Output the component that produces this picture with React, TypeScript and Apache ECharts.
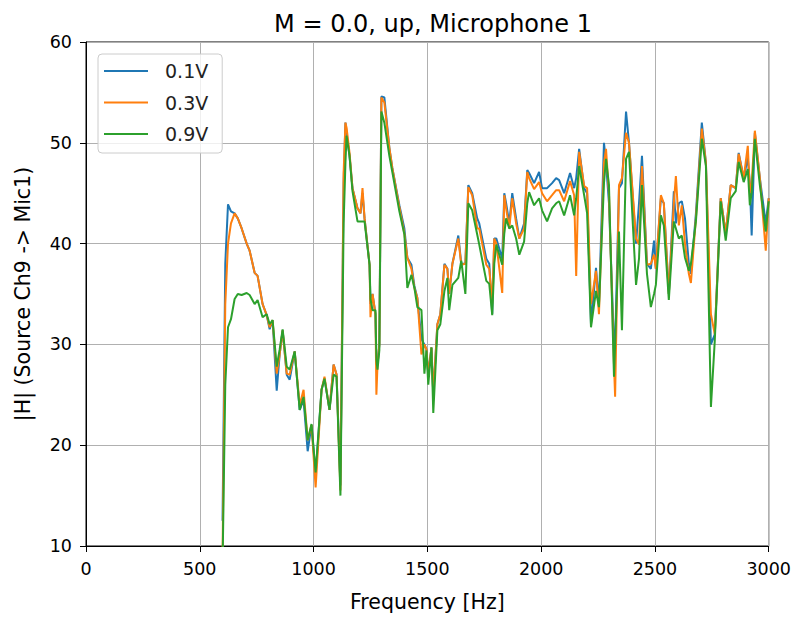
import React, { useEffect, useRef } from "react";
import * as echarts from "echarts";

const freqs = [
  600, 612, 624, 637, 653, 667, 684, 706, 719, 741, 754, 776, 794, 807, 820, 838, 851, 864, 882, 895,
  917, 939, 956, 974, 991, 1009, 1035, 1048, 1070, 1088, 1101, 1118, 1132, 1140, 1145, 1158, 1171, 1193, 1206, 1215,
  1224, 1246, 1250, 1259, 1272, 1276, 1281, 1289, 1298, 1311, 1333, 1346, 1377, 1399, 1412, 1430, 1443, 1456, 1474, 1487,
  1496, 1504, 1518, 1526, 1544, 1557, 1575, 1588, 1596, 1610, 1636, 1649, 1667, 1680, 1697, 1719, 1728, 1759, 1772, 1785,
  1794, 1803, 1829, 1838, 1846, 1860, 1873, 1890, 1904, 1925, 1939, 1947, 1969, 1991, 2004, 2026, 2048, 2066, 2079, 2101,
  2127, 2145, 2154, 2167, 2189, 2202, 2219, 2241, 2254, 2276, 2285, 2298, 2320, 2325, 2342, 2355, 2373, 2386, 2417, 2430,
  2443, 2465, 2482, 2496, 2504, 2526, 2539, 2561, 2583, 2592, 2605, 2618, 2632, 2649, 2658, 2680, 2706, 2724, 2746, 2763,
  2789, 2811, 2833, 2855, 2868, 2890, 2908, 2917, 2925, 2939, 2961, 2987, 3000,
];

const v01 = [
  12.5, 38, 43.9, 43.2, 43, 42.5, 41.5, 40, 39.3, 37.1, 36.8, 34, 32.9, 31.5, 32.4, 25.4, 29, 31.4, 27, 26.5,
  29.3, 23.5, 24.5, 19.4, 22, 17, 25.5, 26.6, 23.5, 28, 27, 16, 46, 52, 51, 48.7, 45.5, 43.5, 43, 45,
  42.5, 37.9, 34, 35, 33, 28, 28, 30, 54.6, 54.5, 49.5, 47.5, 43.8, 41.5, 38.6, 37.9, 35.8, 34.6, 30.5, 30,
  29.5, 27, 29.7, 25, 32, 33, 38, 37.5, 35, 38, 40.8, 38, 38, 45.8, 45, 42.5, 42, 38.5, 38, 33,
  40.5, 40.5, 38.5, 45, 44, 42, 45, 42.5, 40.5, 42, 47.3, 47, 46, 47.1, 45.5, 45.5, 46, 46.5, 46.3, 45,
  47, 45.5, 46.5, 49.4, 45.5, 45, 32, 37.6, 34, 50, 48, 44, 30, 30, 45.5, 46, 53.1, 50, 40, 44,
  48.7, 38, 37.5, 40.3, 37.5, 44.5, 44, 35, 45.2, 42, 44, 44.2, 42.5, 38, 37, 43, 52, 48, 30, 31,
  44.5, 41, 45.8, 45.5, 49, 46.5, 48.5, 46, 40.8, 51, 46.5, 42, 44.5,
];

const v03 = [
  9, 34, 40, 42, 43, 42.5, 41.5, 40, 39.3, 37.1, 36.8, 34, 32.9, 31.7, 32.4, 27.1, 29, 31.4, 27.1, 27,
  29.3, 24, 25.5, 20.5, 22, 15.8, 25.5, 26.8, 23.5, 28, 27, 15.5, 47, 52, 51.5, 49, 45.5, 43.5, 43, 45.5,
  42.5, 37.9, 32.7, 35, 33, 25, 28, 30, 54.5, 54, 49.5, 47.5, 43.6, 41, 38.6, 37.5, 35.6, 34.6, 29, 30,
  29.5, 27, 29.7, 25, 32, 33, 37.9, 37.5, 35, 38, 40.5, 37.9, 38, 45.6, 44.8, 41.5, 41.5, 37.9, 37.5, 34,
  40.5, 40, 35.1, 44.8, 43.5, 41.5, 44.5, 42, 40.5, 41.5, 47.1, 46.5, 45.4, 46.1, 45, 44.2, 44.8, 45.3, 45.3, 44.2,
  46.2, 44.8, 36.8, 49.1, 45.7, 45.5, 34, 37.3, 33, 48, 49.4, 45, 28, 24.8, 45.8, 46.5, 51, 50, 40.5, 39.9,
  47.7, 37.9, 38, 38.9, 37.5, 44.8, 44, 35, 44, 46.7, 41.8, 43.8, 40, 37, 36.1, 42.5, 51.4, 48, 33, 31,
  44.5, 41, 45.8, 45.5, 48.9, 46.5, 49.7, 45, 46, 51.2, 46.5, 39.3, 44.5,
];

const v09 = [
  8, 26, 31.7, 32.5, 34.5, 35, 34.9, 35.1, 34.9, 34, 34.4, 32.7, 33, 32, 32.4, 27.8, 29.5, 31.5, 27.8, 27.5,
  29.3, 23.5, 24.8, 20.5, 22.1, 17.3, 25.5, 26.6, 23.5, 27, 26.8, 15, 42, 48, 50.7, 48.7, 45.2, 42.2, 42.2, 42.2,
  42.2, 37.9, 34.5, 33.4, 33.4, 28.5, 27.5, 29.4, 53.1, 52, 48.7, 47.1, 43.2, 40.9, 35.6, 36.9, 35.6, 33.7, 33.4, 27.1,
  29.4, 26, 29.7, 23.2, 31.4, 32, 35.3, 36.6, 33.4, 35.9, 36.6, 38.3, 35, 44, 43.3, 40.9, 39.9, 36.3, 36, 32.9,
  38, 39.9, 37.9, 41, 42.5, 41.5, 41.8, 40.5, 38.9, 40.2, 44, 45.1, 43.8, 44.5, 43.3, 42.2, 43.5, 44, 44.2, 42.8,
  44.8, 42.8, 44.5, 47.7, 44.8, 43, 31.7, 35.3, 33.7, 46, 48.4, 45.8, 26.8, 30, 41.2, 31.4, 48.4, 49.1, 35.9, 38.5,
  45.8, 37, 33.7, 35, 35.9, 42.8, 41.8, 34.4, 42.2, 41.5, 40.5, 40.8, 38.6, 37.3, 38, 42.2, 50.4, 47.7, 23.8, 30.4,
  44.2, 40.3, 44.5, 45.2, 48.1, 46.1, 47.4, 43.8, 45, 50.4, 45.8, 41.2, 44.2,
];

const seriesNames = ["0.1V", "0.3V", "0.9V"];
const seriesColors = ["#1f77b4", "#ff7f0e", "#2ca02c"];
const seriesValues = [v01, v03, v09];

const FONT = "DejaVu Sans";

export default function App() {
  const ref = useRef<HTMLDivElement>(null);
  useEffect(() => {
    if (!ref.current) return;
    const chart = echarts.init(ref.current, null, { renderer: "svg" });
    chart.setOption({
      animation: false,
      textStyle: { fontFamily: FONT },
      title: {
        text: "M = 0.0, up, Microphone 1",
        left: 428,
        textAlign: "center",
        top: 7,
        textStyle: { fontFamily: FONT, fontSize: 24, fontWeight: "normal", color: "#000" },
      },
      legend: {
        orient: "vertical",
        left: 98,
        top: 54,
        padding: [6, 14, 8, 6],
        itemGap: 9.5,
        itemWidth: 44,
        itemHeight: 2,
        icon: "rect",
        backgroundColor: "rgba(255,255,255,0.8)",
        borderColor: "#cccccc",
        borderWidth: 1,
        borderRadius: 4,
        textStyle: { fontFamily: FONT, fontSize: 19, lineHeight: 22, color: "#222", padding: [0, 0, 0, 12] },
        data: seriesNames,
      },
      grid: {
        left: 86,
        right: 24,
        top: 42,
        bottom: 66,
        show: true,
        borderColor: "#000",
        borderWidth: 1,
        backgroundColor: "transparent",
      },
      xAxis: {
        type: "value",
        min: 0,
        max: 3000,
        interval: 500,
        name: "Frequency [Hz]",
        nameLocation: "middle",
        nameGap: 45,
        nameTextStyle: { fontFamily: FONT, fontSize: 20.5, color: "#000" },
        axisLine: { show: true, lineStyle: { color: "#000", width: 1 } },
        axisTick: { show: true, length: 6, lineStyle: { color: "#000" } },
        axisLabel: {
          fontFamily: FONT,
          fontSize: 17.5,
          color: "#000",
          margin: 14,
          formatter: (v: number) => String(v),
        },
        splitLine: { show: true, lineStyle: { color: "#b0b0b0", width: 1 } },
      },
      yAxis: {
        type: "value",
        min: 10,
        max: 60,
        interval: 10,
        name: "|H| (Source Ch9 -> Mic1)",
        nameLocation: "middle",
        nameGap: 53,
        nameTextStyle: { fontFamily: FONT, fontSize: 20.5, color: "#000" },
        axisLine: { show: true, lineStyle: { color: "#000", width: 1 } },
        axisTick: { show: true, length: 6, lineStyle: { color: "#000" } },
        axisLabel: {
          fontFamily: FONT,
          fontSize: 17.5,
          color: "#000",
          margin: 14,
          formatter: (v: number) => String(v),
        },
        splitLine: { show: true, lineStyle: { color: "#b0b0b0", width: 1 } },
      },
      series: seriesNames.map((name, i) => ({
        name,
        type: "line",
        symbol: "none",
        clip: true,
        color: seriesColors[i],
        lineStyle: { color: seriesColors[i], width: 2 },
        data: freqs.map((f, j) => [f, seriesValues[i][j]]),
      })),
    });
    return () => chart.dispose();
  }, []);
  return (
    <div
      ref={ref}
      style={{ position: "absolute", left: 0, top: 0, width: 794, height: 617 }}
    />
  );
}
